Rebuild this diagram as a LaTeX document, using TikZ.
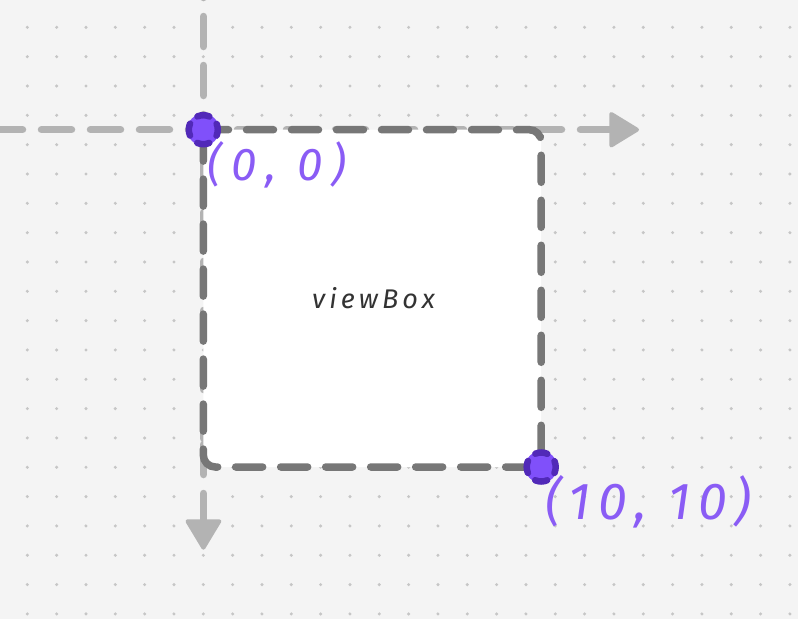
\documentclass[tikz,border=0pt]{standalone}
\usepackage{fontspec}
\newfontfamily\handfont{Fira Sans}
\definecolor{bgcol}{HTML}{F4F4F4}
\definecolor{gridcol}{HTML}{C6C6C6}
\definecolor{axiscol}{HTML}{B3B3B3}
\definecolor{boxcol}{HTML}{777777}
\definecolor{dotlight}{HTML}{8050FA}
\definecolor{dotdark}{HTML}{5129B8}
\definecolor{labelcol}{HTML}{8A5CF5}
\definecolor{textcol}{HTML}{333333}
\tikzset{
  axisline/.style={draw=axiscol, line width=7.5pt, line cap=round, dash pattern=on 30pt off 19pt},
  axishead/.style={fill=axiscol, draw=axiscol, line width=4pt, line join=round},
  boxline/.style={draw=boxcol, fill=white, line width=7.5pt, line cap=round, rounded corners=12pt, dash pattern=on 27pt off 18pt, dash phase=13.8pt},
  dotfill/.style={fill=dotlight},
  dotring/.style={draw=dotdark, line width=6.5pt, line cap=round, dash pattern=on 12.3pt off 10.48pt, dash phase=6.15pt},
  coordlabel/.style={anchor=base west, inner sep=0pt, text=labelcol},
  boxlabel/.style={anchor=base, inner sep=0pt, text=textcol}
}
\begin{document}
\begin{tikzpicture}[x=1pt,y=-1pt]
\useasboundingbox (0,0) rectangle (798,619);
\fill[bgcol] (0,0) rectangle (798,619);
% grid of dots
\foreach \i in {0,...,26}
  \foreach \j in {0,...,20}
    \fill[gridcol] (27.33+29.33*\i, 27.33+29.33*\j) circle (1.7);
% named points
\coordinate (O) at (203.3,129.7);
\coordinate (P) at (541.2,467);
\coordinate (xstart) at (-7.5,129.7);
\coordinate (xend) at (610,129.7);
\coordinate (ystart) at (203.5,-32.5);
\coordinate (ymid) at (203.5,466);
\coordinate (ymid2) at (203.5,444.5);
\coordinate (yend) at (203.5,520);
% axes
\draw[axisline] (xstart) -- (xend);
\draw[axisline] (ystart) -- (ymid);
\draw[axisline] (ymid2) -- (yend);
\filldraw[axishead] (611.3,114) -- (637,129.7) -- (611.3,145.4) -- cycle;
\filldraw[axishead] (187.5,521.3) -- (203.4,547.7) -- (219.3,521.3) -- cycle;
% viewBox rectangle
\draw[boxline] (O) -- (O -| P) -- (P) -- (P -| O) -- cycle;
\node[boxlabel, font=\handfont\itshape\fontsize{27}{30}\selectfont\addfontfeatures{LetterSpace=15}] (vb) at (373.5,308) {viewBox};
% points
\foreach \p in {O,P} {
  \fill[dotfill] (\p) circle (16);
  \draw[dotring] (\p) circle (14.5);
}
\node[coordlabel, font=\handfont\itshape\fontsize{46}{50}\selectfont\addfontfeatures{LetterSpace=20}] (l0) at (207,180) {(0, 0)};
\node[coordlabel, font=\handfont\itshape\fontsize{52}{56}\selectfont\addfontfeatures{LetterSpace=15}] (l10) at (545,519) {(10, 10)};
\end{tikzpicture}
\end{document}
